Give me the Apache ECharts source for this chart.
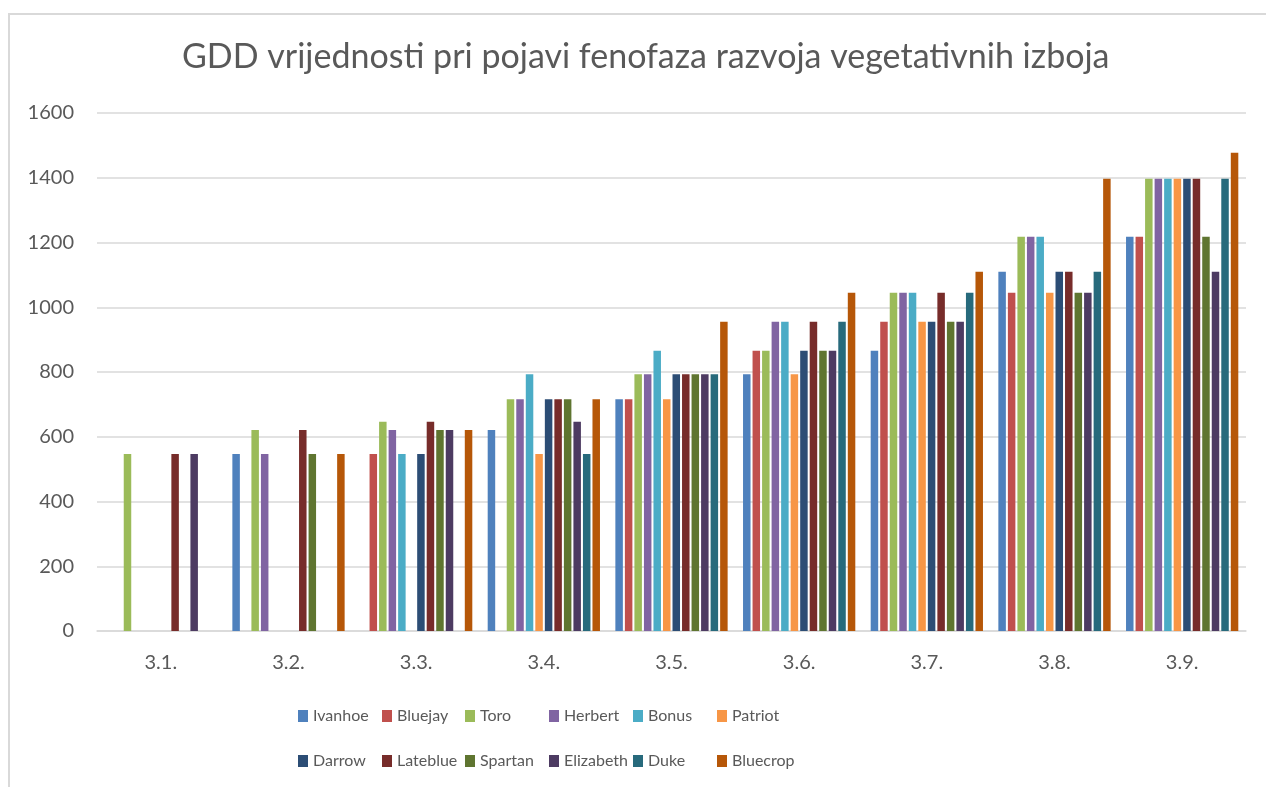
<!DOCTYPE html>
<html>
<head>
<meta charset="utf-8">
<title>GDD vrijednosti</title>
<script src="https://cdn.jsdelivr.net/npm/echarts@6/dist/echarts.min.js"></script>
<style>
  html, body { margin: 0; padding: 0; background: #fff; }
  #frame {
    position: absolute; left: 8px; top: 13px; width: 1300px; height: 800px;
    border-top: 2px solid #d9d9d9; border-left: 2px solid #d9d9d9;
  }
  #chart { position: absolute; left: 0; top: 0; width: 1266px; height: 787px; }
</style>
</head>
<body>
<div id="frame"></div>
<div id="chart"></div>
<script>
// fenofaze
const categories = ['3.1.', '3.2.', '3.3.', '3.4.', '3.5.', '3.6.', '3.7.', '3.8.', '3.9.'];

// GDD po sorti (null = nema stupca)
const ivanhoe   = [null, 547, null, 621, 716, 793, 866, 1110, 1218];
const bluejay   = [null, null, 547, null, 716, 866, 955, 1045, 1218];
const toro      = [547, 621, 646, 716, 793, 866, 1045, 1218, 1397];
const herbert   = [null, 547, 621, 716, 793, 955, 1045, 1218, 1397];
const bonus     = [null, null, 547, 793, 866, 955, 1045, 1218, 1397];
const patriot   = [null, null, null, 547, 716, 793, 955, 1045, 1397];
const darrow    = [null, null, 547, 716, 793, 866, 955, 1110, 1397];
const lateblue  = [547, 621, 646, 716, 793, 955, 1045, 1110, 1397];
const spartan   = [null, 547, 621, 716, 793, 866, 955, 1045, 1218];
const elizabeth = [547, null, 621, 646, 793, 866, 955, 1045, 1110];
const duke      = [null, null, null, 547, 793, 955, 1045, 1110, 1397];
const bluecrop  = [null, 547, 621, 716, 955, 1045, 1110, 1397, 1477];

const names = ['Ivanhoe', 'Bluejay', 'Toro', 'Herbert', 'Bonus', 'Patriot',
               'Darrow', 'Lateblue', 'Spartan', 'Elizabeth', 'Duke', 'Bluecrop'];
const values = [ivanhoe, bluejay, toro, herbert, bonus, patriot,
                darrow, lateblue, spartan, elizabeth, duke, bluecrop];
const colors = ['#4f81bd', '#c0504d', '#9bbb59', '#8064a2', '#4bacc6', '#f79646',
                '#2c4d75', '#772c2a', '#5f7530', '#4d3b62', '#276a7c', '#b65708'];

const yTicks = { min: 0, max: 1600, interval: 200 };

const font = 'Lato, "Open Sans", sans-serif';
const grey = '#595959';

// legenda u dva reda po 6, fiksni stupci kao u Excelu
const legendCols = [298, 382, 465, 549, 633, 717];
const legendRows = [708, 753];
const legends = names.map((n, i) => ({
  left: legendCols[i % 6],
  top: legendRows[Math.floor(i / 6)],
  padding: 0,
  icon: 'rect',
  itemWidth: 10,
  itemHeight: 12,
  selectedMode: false,
  data: [n],
  textStyle: { color: grey, fontSize: 16, fontFamily: font }
}));

const myChart = echarts.init(document.getElementById('chart'));

const option = {
  animation: false,
  color: colors,
  title: {
    text: 'GDD vrijednosti pri pojavi fenofaza razvoja vegetativnih izboja',
    left: 177,
    top: 35,
    textStyle: { color: grey, fontSize: 34, fontWeight: 'normal', fontFamily: font }
  },
  legend: legends,
  grid: { left: 97, right: 20, top: 113, bottom: 156, containLabel: false },
  xAxis: {
    type: 'category',
    data: categories,
    axisLine: { lineStyle: { color: '#d9d9d9', width: 1.5 } },
    axisTick: { show: false },
    axisLabel: { color: grey, fontSize: 20, fontFamily: font, margin: 22 }
  },
  yAxis: {
    type: 'value',
    min: yTicks.min,
    max: yTicks.max,
    interval: yTicks.interval,
    axisLine: { show: false },
    axisTick: { show: false },
    axisLabel: { color: grey, fontSize: 20, fontFamily: font, margin: 23, formatter: v => String(v) },
    splitLine: { lineStyle: { color: '#d9d9d9', width: 1.5 } }
  },
  series: names.map((n, i) => ({
    name: n,
    type: 'bar',
    data: values[i],
    barWidth: 7.5,
    barGap: '27%',
    itemStyle: { color: colors[i] }
  }))
};

myChart.setOption(option);
</script>
</body>
</html>
